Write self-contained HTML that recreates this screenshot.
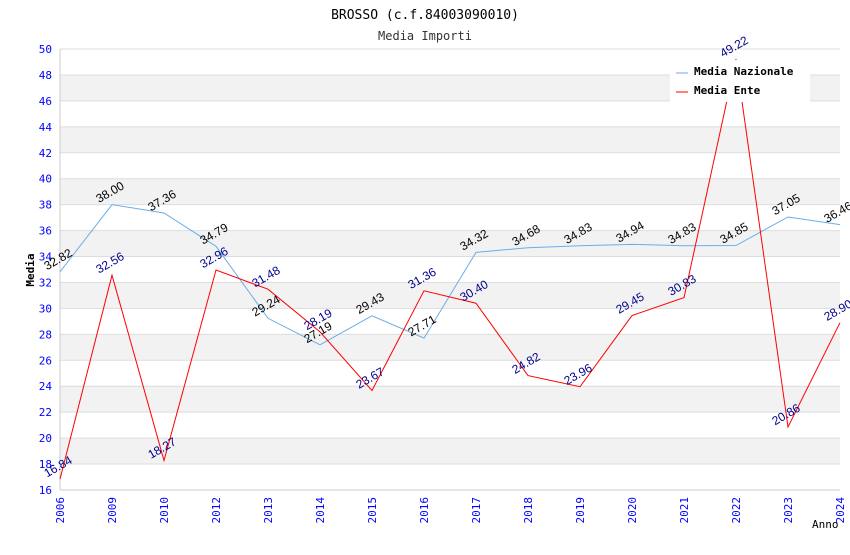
<!DOCTYPE html>
<html><head><meta charset="utf-8"><style>
body{margin:0;background:#fff}
svg text{font-family:"DejaVu Sans Mono","Liberation Mono",monospace}
</style></head><body>
<svg id="chart" width="850" height="550" xmlns="http://www.w3.org/2000/svg">
<text x="425" y="19" text-anchor="middle" font-size="13" fill="#000">BROSSO (c.f.84003090010)</text>
<text x="425" y="40" text-anchor="middle" font-size="12" fill="#333">Media Importi</text>
<g id="bands"></g><g id="grid"></g>
<line x1="60" y1="49" x2="60" y2="490" stroke="#ccc"/>
<line x1="60" y1="490" x2="840" y2="490" stroke="#ccc"/>
<g id="yticks"></g><g id="xticks"></g><g id="series"></g><g id="labels"></g>
<text x="34" y="270" text-anchor="middle" font-size="11" font-weight="bold" transform="rotate(-90 34 270)">Media</text>
<text x="812" y="528" font-size="11">Anno</text>
<g>
<rect x="670" y="60" width="140" height="42" fill="#fff"/>
<line x1="676" y1="73" x2="688" y2="73" stroke="#6aaee8"/>
<text x="694" y="75" font-size="11" font-weight="bold">Media Nazionale</text>
<line x1="676" y1="92" x2="688" y2="92" stroke="#f00"/>
<text x="694" y="94" font-size="11" font-weight="bold">Media Ente</text>
</g>
</svg>
<script>
const categories=["2006","2009","2010","2012","2013","2014","2015","2016","2017","2018","2019","2020","2021","2022","2023","2024"];
const nazionale=[32.82,38.00,37.36,34.79,29.24,27.19,29.43,27.71,34.32,34.68,34.83,34.94,34.83,34.85,37.05,36.46];
const ente=[16.84,32.56,18.27,32.96,31.48,28.19,23.67,31.36,30.40,24.82,23.96,29.45,30.83,49.22,20.86,28.90];
const yTicks=[16,18,20,22,24,26,28,30,32,34,36,38,40,42,44,46,48,50];
const NS="http://www.w3.org/2000/svg";
const x0=60,x1=840,yTop=49,yBot=490,yMin=16,yMax=50;
const xs=i=>x0+i*(x1-x0)/(categories.length-1);
const ys=v=>yBot-(v-yMin)/(yMax-yMin)*(yBot-yTop);
function mk(tag,attrs,parent){const e=document.createElementNS(NS,tag);for(const k in attrs)e.setAttribute(k,attrs[k]);document.getElementById(parent).appendChild(e);return e;}
for(let i=0;i<yTicks.length;i++){
 const v=yTicks[i];
 if(i<yTicks.length-1&&i%2==1){const b=mk('rect',{x:x0,y:ys(yTicks[i+1]),width:x1-x0,height:ys(v)-ys(yTicks[i+1]),fill:'#f2f2f2'},'bands');
 
 }
 const g=mk('line',{x1:x0,x2:x1,y1:ys(v),y2:ys(v),stroke:'#ddd'},'grid');
 
 
 const t=mk('text',{x:52,y:ys(v)+4,'text-anchor':'end','font-size':11,fill:'#00f'},'yticks');t.textContent=v;
 
 
}
categories.forEach((c,i)=>{
 const x=xs(i);
 const t=mk('text',{x:x+4,y:497,'text-anchor':'end','font-size':11,fill:'#00f',transform:`rotate(-90 ${x+4} 497)`},'xticks');t.textContent=c;
 
 
});
function series(data,color,lc,name){
 const p=mk('polyline',{points:data.map((v,i)=>xs(i)+','+ys(v)).join(' '),fill:'none',stroke:color,'stroke-width':1},'series');
 
 
 data.forEach((v,i)=>{
  const x=xs(i),y=ys(v)-9;
  const t=mk('text',{x:x,y:y,'text-anchor':'middle','font-size':12,fill:lc,transform:`rotate(-30 ${x} ${y})`,style:'font-family:"Liberation Sans",sans-serif'},'labels');
  t.textContent=v.toFixed(2);
  
  
 });
}
series(nazionale,'#6aaee8','#000','nazionale');
series(ente,'#f00','#00008b','ente');
</script>
</body></html>
